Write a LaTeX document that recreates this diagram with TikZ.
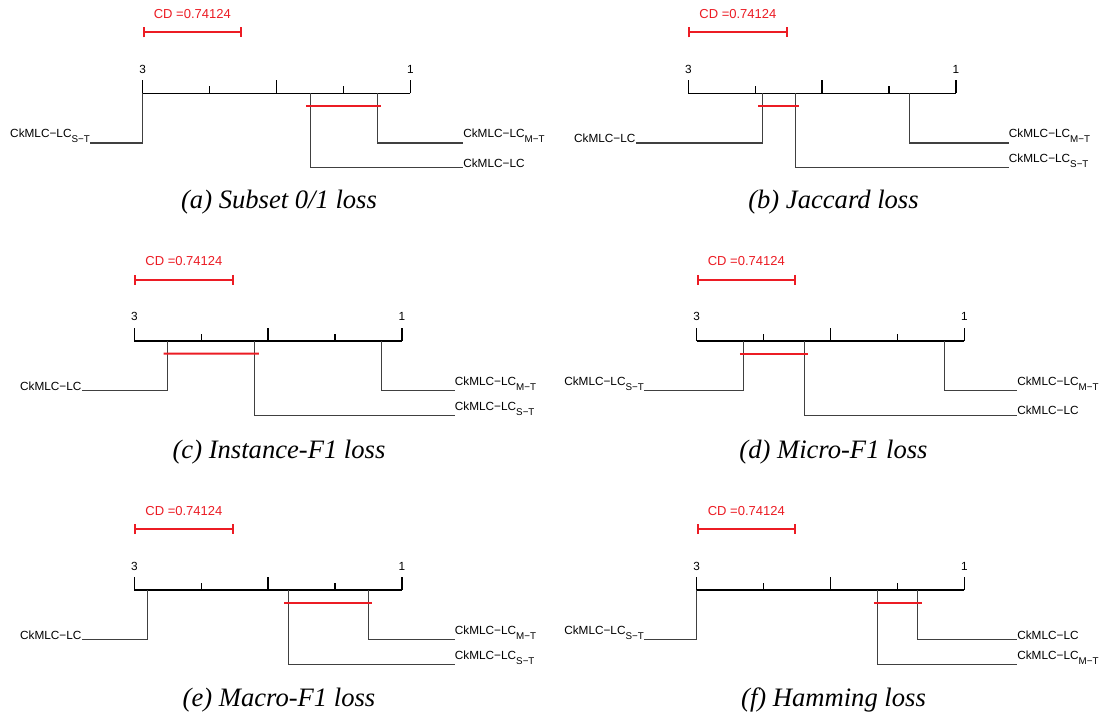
\documentclass[tikz,border=0pt]{standalone}
\usepackage{fontspec}
\setmainfont{Liberation Sans}
\newfontfamily\capfont{Liberation Serif}
\usetikzlibrary{calc,arrows.meta}
\definecolor{cdred}{RGB}{236,28,36}

% subscript of a method name
\newcommand\lsub[1]{\raisebox{-2.5pt}{\fontsize{4.9}{5}\selectfont #1}}

\tikzset{
  axisline/.style={line width=0.7pt, black},
  tickline/.style={line width=0.7pt, black},
  methodline/.style={line width=0.55pt, black!75},
  cliquebar/.style={line width=1pt, cdred},
  cdbar/.style={line width=1pt, cdred, arrows={Bar[width=5pt]-Bar[width=5pt]}},
  cdtext/.style={text=cdred, font=\fontsize{6.5}{7}\selectfont, inner sep=0pt, anchor=base},
  ticklabel/.style={font=\fontsize{5.9}{6}\selectfont, inner sep=0pt, anchor=base},
  methodlabel/.style={font=\fontsize{5.9}{6}\selectfont, inner sep=0pt},
  caption/.style={font=\capfont\itshape\fontsize{13.3}{15}\selectfont, inner sep=0pt, anchor=base},
}

% rank axis from 3 (left) to 1 (right) with the critical-difference bar above it
% #1 prefix, #2 x of rank 3, #3 y of the axis
\newcommand\cdaxis[3]{%
  \coordinate (#1-3) at (#2,#3);
  \coordinate (#1-1) at (#2+267.7,#3);
  \coordinate (#1-2) at ($(#1-3)!0.5!(#1-1)$);
  \coordinate (#1-25) at ($(#1-3)!0.25!(#1-1)$);
  \coordinate (#1-15) at ($(#1-3)!0.75!(#1-1)$);
  \draw[axisline] (#1-3) -- (#1-1);
  \foreach \t in {3,2,1} \draw[tickline] (#1-\t) -- ++(0,-13);
  \foreach \t in {25,15} \draw[tickline] (#1-\t) -- ++(0,-7);
  \node[ticklabel] (#1-l3) at ($(#1-3)+(0,-20)$) {3};
  \node[ticklabel] (#1-l1) at ($(#1-1)+(0,-20)$) {1};
  \coordinate (#1-cda) at ($(#1-3)+(0,-61)$);
  \coordinate (#1-cdb) at ($(#1-cda)+(0.74124*133.85,0)$);
  \draw[cdbar] (#1-cda) -- (#1-cdb);
  \node[cdtext] (#1-cd) at ($(#1-cda)!0.5!(#1-cdb)+(0,-14)$) {CD =0.74124};
}

% method on the left side: #1 prefix, #2 id, #3 average rank, #4 name
\newcommand\cdleft[4]{%
  \coordinate (#1-#2) at ($(#1-3)!{(3-#3)/2}!(#1-1)$);
  \node[methodlabel, anchor=south east] (#1-#2-n) at ($(#1-3)+(-52.5,49.7)$) {#4};
  \draw[methodline] (#1-#2) |- (#1-#2-n.south east);
}

% method on the right side: #1 prefix, #2 id, #3 average rank, #4 drop below axis, #5 name
\newcommand\cdright[5]{%
  \coordinate (#1-#2) at ($(#1-3)!{(3-#3)/2}!(#1-1)$);
  \node[methodlabel, anchor=south west] (#1-#2-n) at ($(#1-1)+(52.5,#4)$) {#5};
  \draw[methodline] (#1-#2) |- (#1-#2-n.south west);
}

% group of methods with no significant difference
\newcommand\cdclique[3]{%
  \draw[cliquebar] ($(#1-#2)+(-4,12.5)$) -- ($(#1-#3)+(4,12.5)$);
}

\begin{document}
\begin{tikzpicture}[x=0.5pt, y=-0.5pt]
  \fill[white] (0,0) rectangle (1106,716);
  \useasboundingbox (0,0) rectangle (1106,716);

  % (a) Subset 0/1 loss
  \cdaxis{a}{142.7}{93.3}
  \cdleft{a}{st}{3}{CkMLC−LC\lsub{S−T}}
  \cdright{a}{mt}{1.249}{49.7}{CkMLC−LC\lsub{M−T}}
  \cdright{a}{lc}{1.748}{74.5}{CkMLC−LC}
  \cdclique{a}{lc}{mt}
  \node[caption] (a-cap) at (279,208.3) {(a) Subset 0/1 loss};

  % (b) Jaccard loss
  \cdaxis{b}{688.3}{93.3}
  \cdleft{b}{lc}{2.449}{CkMLC−LC}
  \cdright{b}{mt}{1.349}{49.7}{CkMLC−LC\lsub{M−T}}
  \cdright{b}{st}{2.2}{74.5}{CkMLC−LC\lsub{S−T}}
  \cdclique{b}{lc}{st}
  \node[caption] (b-cap) at (833.5,208.3) {(b) Jaccard loss};

  % (c) Instance-F1 loss
  \cdaxis{c}{134.3}{341}
  \cdleft{c}{lc}{2.751}{CkMLC−LC}
  \cdright{c}{mt}{1.154}{49.7}{CkMLC−LC\lsub{M−T}}
  \cdright{c}{st}{2.099}{74.5}{CkMLC−LC\lsub{S−T}}
  \cdclique{c}{lc}{st}
  \node[caption] (c-cap) at (279,458.3) {(c) Instance-F1 loss};

  % (d) Micro-F1 loss
  \cdaxis{d}{696.7}{341}
  \cdleft{d}{st}{2.648}{CkMLC−LC\lsub{S−T}}
  \cdright{d}{mt}{1.149}{49.7}{CkMLC−LC\lsub{M−T}}
  \cdright{d}{lc}{2.195}{74.5}{CkMLC−LC}
  \cdclique{d}{st}{lc}
  \node[caption] (d-cap) at (833.5,458.3) {(d) Micro-F1 loss};

  % (e) Macro-F1 loss
  \cdaxis{e}{134.3}{590}
  \cdleft{e}{lc}{2.9}{CkMLC−LC}
  \cdright{e}{mt}{1.251}{49.7}{CkMLC−LC\lsub{M−T}}
  \cdright{e}{st}{1.851}{74.5}{CkMLC−LC\lsub{S−T}}
  \cdclique{e}{st}{mt}
  \node[caption] (e-cap) at (279,706.7) {(e) Macro-F1 loss};

  % (f) Hamming loss
  \cdaxis{f}{696.7}{590}
  \cdleft{f}{st}{3}{CkMLC−LC\lsub{S−T}}
  \cdright{f}{lc}{1.348}{49.7}{CkMLC−LC}
  \cdright{f}{mt}{1.647}{74.5}{CkMLC−LC\lsub{M−T}}
  \cdclique{f}{mt}{lc}
  \node[caption] (f-cap) at (833.5,706.7) {(f) Hamming loss};
\end{tikzpicture}
\end{document}
